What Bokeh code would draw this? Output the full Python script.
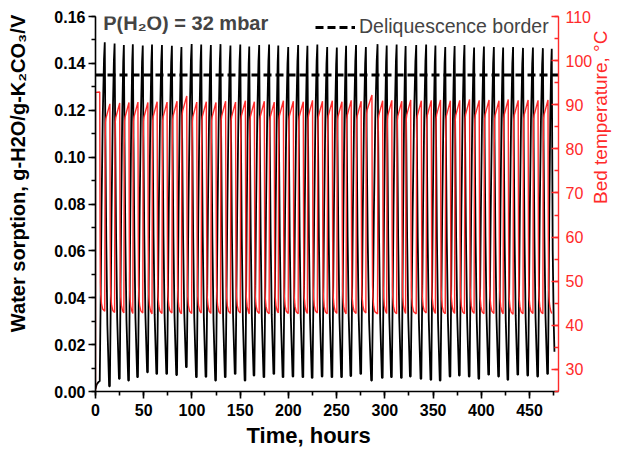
import numpy as np
from bokeh.plotting import figure
from bokeh.models import (Range1d, LinearAxis, SingleIntervalTicker, NumeralTickFormatter,
                          Legend, LegendItem, Label)
from bokeh.embed import file_html
from bokeh.resources import INLINE

FONT = "Liberation Sans"
RED = "#ff2a2a"
NBSP = "\u00a0"

# ---------------- data ----------------
X_RANGE = (0, 480)          # Time, hours
Y_RANGE = (0.0, 0.16)       # Water sorption
T_RANGE = (25, 110)         # Bed temperature
DELIQUESCENCE = 0.135

# times of the sorption maxima (= start of heating), hours
PEAK_T = [9.6, 19.8, 29.4, 38.7, 49.0, 58.6, 68.9, 79.2, 89.1, 99.7,
          109.6, 119.6, 129.6, 139.9, 150.1, 159.4, 169.7, 180.0, 189.5, 199.8,
          210.1, 219.7, 230.0, 240.2, 250.2, 259.8, 270.1, 280.3, 292.4, 301.9,
          312.2, 321.5, 332.5, 342.8, 352.4, 362.6, 372.3, 382.5, 392.5, 402.7,
          413.0, 422.6, 432.9, 443.2, 453.5, 463.8, 473.0]
PEAK_V = [0.1490, 0.1485, 0.1478, 0.1482, 0.1476, 0.1480, 0.1478, 0.1475, 0.1470, 0.1483,
          0.1480, 0.1478, 0.1482, 0.1476, 0.1480, 0.1472, 0.1478, 0.1480, 0.1476, 0.1470,
          0.1478, 0.1475, 0.1480, 0.1470, 0.1468, 0.1475, 0.1478, 0.1470, 0.1482, 0.1476,
          0.1480, 0.1474, 0.1478, 0.1480, 0.1476, 0.1470, 0.1474, 0.1478, 0.1468, 0.1472,
          0.1470, 0.1468, 0.1470, 0.1466, 0.1468, 0.1465, 0.1462]
# sorption minima
TROUGH_T = [14.1, 24.3, 33.9, 43.2, 53.5, 63.1, 73.4, 83.7, 93.8, 104.2,
            114.1, 124.1, 134.1, 144.4, 154.6, 163.9, 174.2, 184.5, 194.0, 204.3,
            214.6, 224.2, 234.5, 244.7, 254.7, 264.3, 274.6, 285.8, 296.9, 306.4,
            316.7, 326.0, 337.0, 347.3, 356.9, 367.1, 376.8, 387.0, 397.0, 407.2,
            417.5, 427.1, 437.4, 447.7, 458.0, 468.3]
TROUGH_V = [0.0022, 0.0054, 0.0047, 0.0061, 0.0082, 0.0075, 0.0075, 0.0070, 0.0104, 0.0061,
            0.0063, 0.0047, 0.0061, 0.0075, 0.0047, 0.0068, 0.0061, 0.0075, 0.0061, 0.0064,
            0.0061, 0.0058, 0.0064, 0.0061, 0.0061, 0.0066, 0.0075, 0.0047, 0.0058, 0.0061,
            0.0058, 0.0064, 0.0054, 0.0050, 0.0047, 0.0064, 0.0068, 0.0064, 0.0054, 0.0072,
            0.0064, 0.0050, 0.0072, 0.0068, 0.0064, 0.0075]
# times when the bed is cooled down again
RED_FALL_T = [14.9, 25.1, 34.7, 44.0, 54.3, 63.9, 74.2, 84.5, 94.6, 105.0,
              114.9, 124.9, 134.9, 145.2, 155.4, 164.7, 175.0, 185.3, 194.8, 205.1,
              215.4, 225.0, 235.3, 245.5, 255.5, 265.1, 275.4, 286.6, 297.7, 307.2,
              317.5, 326.8, 337.8, 348.1, 357.7, 367.9, 377.6, 387.8, 397.8, 408.0,
              418.3, 427.9, 438.2, 448.5, 458.8, 469.1]
RED_HIGH = [90.2, 90.4, 90.5, 90.6, 90.5, 90.7, 90.6, 90.8, 92.0, 90.6,
            90.7, 90.5, 90.8, 90.6, 90.9, 90.7, 90.8, 90.6, 90.9, 90.8,
            90.7, 91.0, 90.8, 90.9, 90.7, 91.0, 90.8, 92.2, 90.9, 91.0,
            90.8, 91.1, 90.9, 91.0, 91.1, 90.9, 91.0, 91.2, 91.0, 91.1,
            90.9, 91.2, 91.0, 91.1, 91.0, 91.1]
RED_LOW = [43.2, 42.9, 42.8, 42.7, 42.8, 42.6, 42.7, 42.8, 42.6, 42.7,
           42.8, 42.7, 42.6, 42.7, 42.8, 42.6, 42.7, 42.6, 42.8, 42.7,
           42.6, 42.7, 42.8, 42.6, 42.7, 42.6, 42.7, 42.8, 42.6, 42.7,
           42.6, 42.7, 42.6, 42.8, 42.7, 42.6, 42.7, 42.6, 42.7, 42.6,
           42.7, 42.6, 42.5, 42.6, 42.7, 42.6, 42.7]
# start and end of the records
START_T = [0.0, 1.2, 3.0, 4.4]
START_SORP = [0.0010, 0.0030, 0.0040, 0.0045]
END_T = [474.0, 475.0, 475.8]
END_SORP = [0.060, 0.030, 0.017]
RED_START_T = [0.0, 0.05, 4.4]
RED_START_V = [10.0, 92.8, 92.9]

DESORB_F = [0.0, 0.15, 0.35, 0.6, 1.0]
DESORB_LEVEL = [1.0, 0.72, 0.42, 0.18, 0.0]
SORB_F = [0.0, 0.15, 0.35, 0.6, 0.85, 1.0]
SORB_LEVEL = [0.0, 0.2, 0.5, 0.78, 0.95, 1.0]
HEAT_DT = [0.0, 0.35, 0.7, 1.2]
HEAT_LEVEL = [0.0, 0.78, 0.91, 0.93]
COOL_DT = [0.0, 0.35, 0.6, 1.0, 1.8, 3.0]
COOL_LEVEL = [1.0, 0.36, 0.13, 0.077, 0.035, 0.01]

# ---------------- build the series ----------------
bt, bv = list(START_T), list(START_SORP)


def sorb(t0, t1, v0, v1):
    for f, l in zip(SORB_F[1:], SORB_LEVEL[1:]):
        bt.append(t0 + f * (t1 - t0))
        bv.append(v0 + l * (v1 - v0))


def desorb(t0, t1, v0, v1):
    for f, l in zip(DESORB_F[1:], DESORB_LEVEL[1:]):
        bt.append(t0 + f * (t1 - t0))
        bv.append(v1 + l * (v0 - v1))


sorb(START_T[-1], PEAK_T[0], START_SORP[-1], PEAK_V[0])
for k in range(len(TROUGH_T)):
    desorb(PEAK_T[k], TROUGH_T[k], PEAK_V[k], TROUGH_V[k])
    bt.append(RED_FALL_T[k]); bv.append(TROUGH_V[k])
    sorb(RED_FALL_T[k], PEAK_T[k + 1], TROUGH_V[k], PEAK_V[k + 1])
bt += END_T
bv += END_SORP

rt, rv = list(RED_START_T), list(RED_START_V)


def cool(tf, hi, lo, t_next):
    for dt, l in zip(COOL_DT[1:], COOL_LEVEL[1:]):
        rt.append(tf + dt); rv.append(lo + l * (hi - lo))
    rt.append(t_next); rv.append(lo)


def heat(tr, lo, hi, tf):
    for dt, l in zip(HEAT_DT[1:], HEAT_LEVEL[1:]):
        rt.append(tr + dt); rv.append(lo + l * (hi - lo))
    rt.append(tf); rv.append(hi)


cool(RED_START_T[-1], RED_START_V[-1], RED_LOW[0], PEAK_T[0])
for k in range(len(RED_FALL_T)):
    heat(PEAK_T[k], RED_LOW[k], RED_HIGH[k], RED_FALL_T[k])
    cool(RED_FALL_T[k], RED_HIGH[k], RED_LOW[k + 1], PEAK_T[k + 1])

# ---------------- layout (canvas pixels) ----------------
W, H = 624, 455
ML, MR, MT, MB = 95, 61, 16, 64


def sx(cx):          # canvas x -> screen units measured from the frame's left edge
    return cx - ML


def sy(cy):          # canvas y (from top) -> screen units measured up from frame bottom
    return (H - MB) - cy


p = figure(width=W, height=H, x_range=Range1d(*X_RANGE), y_range=Range1d(*Y_RANGE),
           output_backend="svg", toolbar_location=None, title=None,
           min_border_left=ML, min_border_right=MR, min_border_top=MT, min_border_bottom=MB)
p.extra_y_ranges = {"temp": Range1d(*T_RANGE)}
p.outline_line_color = None
p.xgrid.visible = False
p.ygrid.visible = False
p.background_fill_color = "white"

xa = p.xaxis[0]
xa.ticker = SingleIntervalTicker(interval=50, num_minor_ticks=2)
ya = p.yaxis[0]
ya.ticker = SingleIntervalTicker(interval=0.02, num_minor_ticks=2)
ya.formatter = NumeralTickFormatter(format="0.00")
for ax in (xa, ya):
    ax.major_label_text_font = FONT
    ax.major_label_text_font_size = "16px"
    ax.major_label_text_font_style = "bold"
    ax.major_label_text_color = "black"
    ax.axis_line_width = 1.6
    ax.major_tick_line_width = 1.6
    ax.minor_tick_line_width = 1.6
    ax.major_tick_in = 0
    ax.minor_tick_in = 0
    ax.major_tick_out = 7
    ax.minor_tick_out = 4
    ax.axis_label_text_font = FONT
    ax.axis_label_text_font_style = "bold"
    ax.axis_label_text_color = "black"
xa.major_label_standoff = 5
ya.major_label_standoff = 3

# axis titles (non-breaking spaces shift the centred title as in the original)
xa.axis_label = "Time, hours" + NBSP * 6
xa.axis_label_text_font_size = "22px"
xa.axis_label_standoff = 4
ya.axis_label = NBSP * 11 + "Water sorption, g-H2O/g-K\u2082CO\u2083/V"
ya.axis_label_text_font_size = "20px"
ya.axis_label_standoff = 22

ra = LinearAxis(y_range_name="temp", ticker=SingleIntervalTicker(interval=10, num_minor_ticks=2))
ra.axis_line_color = RED
ra.major_tick_line_color = RED
ra.minor_tick_line_color = RED
ra.axis_line_width = 1.4
ra.major_tick_line_width = 1.4
ra.minor_tick_line_width = 1.4
ra.major_tick_in = 7
ra.major_tick_out = 0
ra.minor_tick_in = 4
ra.minor_tick_out = 0
ra.major_label_text_color = RED
ra.major_label_text_font = FONT
ra.major_label_text_font_size = "16px"
ra.major_label_standoff = 7
ra.axis_label = "Bed temperature, \u00b0C"
ra.axis_label_text_font = FONT
ra.axis_label_text_font_size = "19px"
ra.axis_label_text_font_style = "normal"
ra.axis_label_text_color = RED
ra.axis_label_standoff = 5
if "axis_label_orientation" in LinearAxis.properties():
    ra.axis_label_orientation = np.pi / 2
p.add_layout(ra, "right")

# data
p.line(bt, bv, line_color="black", line_width=1.8)
p.line(rt, rv, line_color=RED, line_width=1.4, y_range_name="temp")
dl = p.line([X_RANGE[0], X_RANGE[1]], [DELIQUESCENCE, DELIQUESCENCE], line_color="black",
            line_width=3, line_dash="8 4")

leg = Legend(items=[LegendItem(label="Deliquescence border", renderers=[dl])],
             location=(sx(315), sy(38)), padding=0, margin=0, spacing=0,
             glyph_width=40, glyph_height=20, label_height=20, label_standoff=4,
             label_text_font=FONT, label_text_font_size="19.5px",
             border_line_color=None, background_fill_alpha=0)
p.add_layout(leg)

p.add_layout(Label(x=sx(102.7), y=sy(22), x_units="screen", y_units="screen",
                   text="P(H\u2082O) = 32 mbar", text_font=FONT,
                   text_font_size="20px", text_font_style="bold", text_align="left",
                   text_baseline="alphabetic"))

open("out.html", "w").write(file_html(p, INLINE))
